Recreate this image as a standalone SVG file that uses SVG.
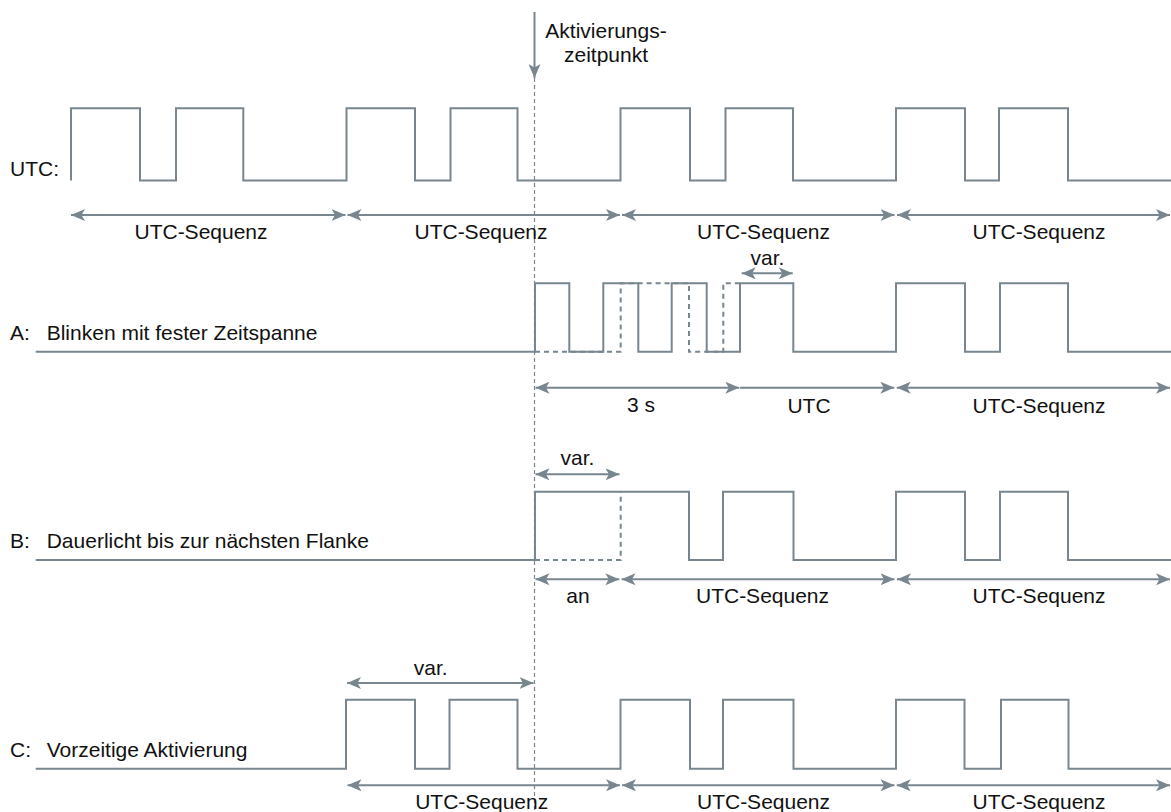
<svg xmlns="http://www.w3.org/2000/svg" width="1171" height="812" viewBox="0 0 1171 812">
<defs>
<marker id="ah" viewBox="0 0 14 12" refX="14" refY="6" markerWidth="14" markerHeight="12" markerUnits="userSpaceOnUse" orient="auto-start-reverse">
<path d="M0,0 L14,6 L0,12 L3.5,6 Z" fill="#78878f"/>
</marker>
</defs>
<style>
text{font-family:"Liberation Sans",Arial,sans-serif;font-size:21px;fill:#111}
.c{text-anchor:middle}
.w{fill:none;stroke:#78878f;stroke-width:2}
.d{fill:none;stroke:#78878f;stroke-width:2;stroke-dasharray:5 4}
.a{fill:none;stroke:#78878f;stroke-width:2;marker-start:url(#ah);marker-end:url(#ah)}
.ae{fill:none;stroke:#78878f;stroke-width:2;marker-end:url(#ah)}
.act{fill:none;stroke:#78878f;stroke-width:1.2;stroke-dasharray:4 3}
</style>
<rect width="1171" height="812" fill="#fff"/>

<g id="activation">
<line x1="534.5" y1="78" x2="534.5" y2="812" class="act"/>
<line x1="534.5" y1="12" x2="534.5" y2="78" class="ae"/>
<text x="606" y="38" class="c">Aktivierungs-</text>
<text x="606" y="62" class="c">zeitpunkt</text>
</g>

<g id="utc">
<text x="10" y="176">UTC:</text>
<path class="w" d="M71,180.5 V108.3 H140 V180.5 H176 V108.3 H243.3 V180.5 H346.5 V108.3 H415 V180.5 H450.5 V108.3 H517.5 V180.5 H620.5 V108.3 H690 V180.5 H725.5 V108.3 H793 V180.5 H896 V108.3 H965 V180.5 H999 V108.3 H1068 V180.5 H1171"/>
<text x="201" y="238.5" class="c">UTC-Sequenz</text>
<text x="481" y="238.5" class="c">UTC-Sequenz</text>
<text x="763.5" y="238.5" class="c">UTC-Sequenz</text>
<text x="1039" y="238.5" class="c">UTC-Sequenz</text>
</g>

<g id="rowA">
<text x="10" y="340">A:</text>
<text x="46.7" y="340">Blinken mit fester Zeitspanne</text>
<path class="d" d="M535,351.7 H620.7 V283.3 H689 V351.7 H723.3 V283.3 H740"/>
<path class="w" d="M35.7,351.7 H535 V283.3 H569.3 V351.7 H603.3 V283.3 H638.3 V351.7 H671.7 V283.3 H706.7 V351.7 H740 V283.3 H793.3 V351.7 H896 V283.3 H965 V351.7 H1000 V283.3 H1068 V351.7 H1171"/>
<text x="767.5" y="265" class="c">var.</text>
<text x="641" y="412" class="c">3 s</text>
<text x="809" y="412.5" class="c">UTC</text>
<text x="1039" y="412.5" class="c">UTC-Sequenz</text>
</g>

<g id="rowB">
<text x="10" y="548.3">B:</text>
<text x="46.7" y="548.3">Dauerlicht bis zur nächsten Flanke</text>
<path class="d" d="M535,560 H620.7 V491.7"/>
<path class="w" d="M35.7,560 H535 V491.7 H689 V560 H723 V491.7 H793.5 V560 H896 V491.7 H965 V560 H1000 V491.7 H1068 V560 H1171"/>
<text x="577.5" y="465" class="c">var.</text>
<text x="578" y="603" class="c">an</text>
<text x="762.5" y="603" class="c">UTC-Sequenz</text>
<text x="1039" y="603" class="c">UTC-Sequenz</text>
</g>

<g id="rowC">
<text x="10" y="757">C:</text>
<text x="46.7" y="757">Vorzeitige Aktivierung</text>
<path class="w" d="M35.7,768.7 H346 V699.7 H415 V768.7 H449.5 V699.7 H517.5 V768.7 H620.5 V699.7 H690 V768.7 H723 V699.7 H793.5 V768.7 H896 V699.7 H964.5 V768.7 H1001 V699.7 H1068.5 V768.7 H1171"/>
<text x="430.8" y="674.7" class="c">var.</text>
<text x="481.7" y="808.7" class="c">UTC-Sequenz</text>
<text x="763.5" y="808.7" class="c">UTC-Sequenz</text>
<text x="1039" y="808.7" class="c">UTC-Sequenz</text>
</g>

<g id="connectors">
<line x1="71" y1="215" x2="345.5" y2="215" class="a"/>
<line x1="347.5" y1="215" x2="620" y2="215" class="a"/>
<line x1="622" y1="215" x2="894.5" y2="215" class="a"/>
<line x1="897" y1="215" x2="1170" y2="215" class="a"/>

<line x1="741.7" y1="273.3" x2="792.7" y2="273.3" class="a"/>
<line x1="535.5" y1="387.7" x2="739.3" y2="387.7" class="a"/>
<line x1="740" y1="387.7" x2="894.3" y2="387.7" class="ae"/>
<line x1="896.7" y1="387.7" x2="1170" y2="387.7" class="a"/>

<line x1="535.5" y1="474.3" x2="619.5" y2="474.3" class="a"/>
<line x1="535.5" y1="579.3" x2="619.3" y2="579.3" class="a"/>
<line x1="621.5" y1="579.3" x2="894.5" y2="579.3" class="a"/>
<line x1="897" y1="579.3" x2="1170" y2="579.3" class="a"/>

<line x1="347" y1="683" x2="533.5" y2="683" class="a"/>
<line x1="347.5" y1="785.3" x2="620" y2="785.3" class="a"/>
<line x1="622" y1="785.3" x2="894.5" y2="785.3" class="a"/>
<line x1="896.7" y1="785.3" x2="1170" y2="785.3" class="a"/>
</g>
</svg>
